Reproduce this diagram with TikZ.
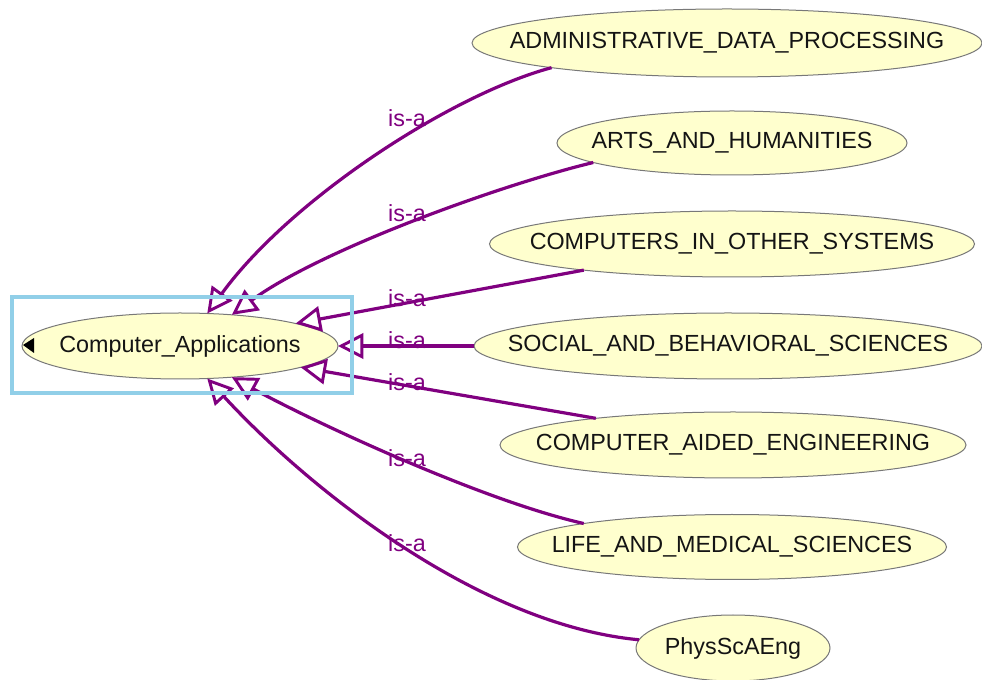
\documentclass[tikz,border=0pt]{standalone}
\usepackage{fontspec}
\setmainfont{Liberation Sans}
\usetikzlibrary{shapes.geometric,arrows.meta}
\definecolor{edgepurple}{RGB}{128,0,128}
\definecolor{nodefill}{RGB}{255,255,206}
\definecolor{nodeborder}{RGB}{120,120,120}
\definecolor{selblue}{RGB}{145,207,232}
\begin{document}
\begin{tikzpicture}[x=0.75pt,y=-0.75pt,
  cls/.style={ellipse, draw=nodeborder, line width=0.75pt, fill=nodefill, inner sep=0pt, outer sep=0pt,
    font=\fontsize{17.5}{20}\selectfont, text={rgb,255:red,20;green,20;blue,20}},
  isa/.style={draw=edgepurple, line width=2.4pt, -{Triangle[open,length=19pt,width=19pt,line width=2.2pt]}},
  lbl/.style={text=edgepurple, font=\fontsize{17.5}{20}\selectfont, inner sep=0pt},
  selbox/.style={draw=selblue, line width=3pt, inner sep=0pt, outer sep=0pt}]
\clip (0,0) rectangle (982,680);
\fill[white] (0,0) rectangle (982,680);
% nodes
\node[cls, minimum width={316*0.75pt}, minimum height={66*0.75pt}] (ca) at (180,346) {\makebox[0pt]{Computer\_Applications}};
\node[cls, minimum width={510*0.75pt}, minimum height={68*0.75pt}] (adp) at (727,43) {\makebox[0pt]{ADMINISTRATIVE\_DATA\_PROCESSING}};
\node[cls, minimum width={350*0.75pt}, minimum height={64*0.75pt}] (arts) at (732,143) {\makebox[0pt]{ARTS\_AND\_HUMANITIES}};
\node[cls, minimum width={485*0.75pt}, minimum height={66*0.75pt}] (comp) at (732,244) {\makebox[0pt]{COMPUTERS\_IN\_OTHER\_SYSTEMS}};
\node[cls, minimum width={508*0.75pt}, minimum height={66*0.75pt}] (soc) at (728,346) {\makebox[0pt]{SOCIAL\_AND\_BEHAVIORAL\_SCIENCES}};
\node[cls, minimum width={466*0.75pt}, minimum height={66*0.75pt}] (cae) at (733,445) {\makebox[0pt]{COMPUTER\_AIDED\_ENGINEERING}};
\node[cls, minimum width={429*0.75pt}, minimum height={65*0.75pt}] (life) at (732,547) {\makebox[0pt]{LIFE\_AND\_MEDICAL\_SCIENCES}};
\node[cls, minimum width={194*0.75pt}, minimum height={66*0.75pt}] (phys) at (733,648) {\makebox[0pt]{PhysScAEng}};
% collapse marker
\fill[black] (23,345) -- (34,338) -- (34,353) -- cycle;
% edges
\draw[isa] (adp.188) .. controls (450,95) and (290,200) .. (ca.50.7);
\draw[isa] (arts.188) .. controls (500,185) and (320,250) .. (ca.31.6);
\draw[isa] (comp.190.6) -- (ca.11);
\draw[isa] (soc.west) -- (ca.east);
\draw[isa] (cae.169.3) -- (ca.-10.1);
\draw[isa] (life.171.9) .. controls (480,500) and (310,420) .. (ca.-31.6);
\draw[isa] (phys.175) .. controls (480,625) and (310,490) .. (ca.-50.7);
% labels
\node[lbl] (l1) at (407,118) {is-a};
\node[lbl] (l2) at (407,213) {is-a};
\node[lbl] (l3) at (407,298) {is-a};
\node[lbl] (l4) at (407,340) {is-a};
\node[lbl] (l5) at (407,382) {is-a};
\node[lbl] (l6) at (407,458) {is-a};
\node[lbl] (l7) at (407,543) {is-a};
% selection box
\node[selbox, minimum width={340*0.75pt}, minimum height={96*0.75pt}] (sel) at (182,345) {};
\end{tikzpicture}
\end{document}
